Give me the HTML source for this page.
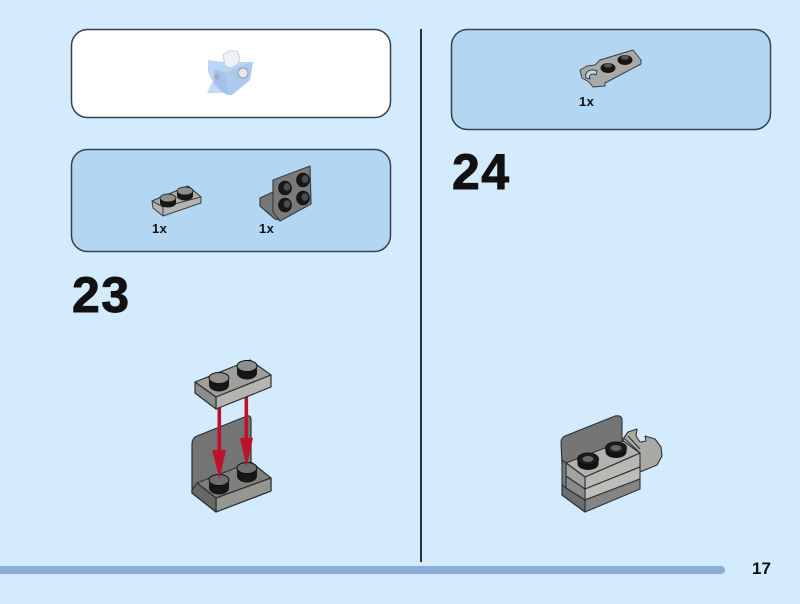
<!DOCTYPE html>
<html>
<head>
<meta charset="utf-8">
<style>
html,body{margin:0;padding:0;background:#d3ebfd;}
svg{display:block;filter:blur(.35px);}
text{font-family:"Liberation Sans",sans-serif;font-weight:bold;fill:#111;}
.num{stroke:#111;stroke-width:.9px;}
</style>
</head>
<body>
<svg width="800" height="604" viewBox="0 0 800 604" xmlns="http://www.w3.org/2000/svg">
<rect width="800" height="604" fill="#d3ebfd"/>

<!-- panels -->
<rect x="71.5" y="29.5" width="319" height="88" rx="16" fill="#fff" stroke="#36434f" stroke-width="1.5"/>
<rect x="71.5" y="149.5" width="319" height="102" rx="16" fill="#b3d7f3" stroke="#36434f" stroke-width="1.5"/>
<rect x="451.5" y="29.5" width="319" height="100" rx="16" fill="#b3d7f3" stroke="#36434f" stroke-width="1.5"/>

<!-- divider + footer -->
<rect x="420" y="29" width="2" height="533" fill="#26313a"/>
<rect x="-10" y="566" width="735" height="8" rx="4" fill="#8cabdc"/>
<text x="752" y="574" font-size="17">17</text>

<!-- step numbers -->
<text class="num" x="72" y="312" font-size="50" letter-spacing="1.5">23</text>
<text class="num" x="452" y="189" font-size="50" letter-spacing="1.5">24</text>

<!-- faded previous model -->
<g stroke-linejoin="round">
<polygon points="208,60 222,62 240,62 253,62 250,80 232,95 225,93 214,85 208,72" fill="#bdd5f5"/>
<polygon points="207,93 213,80 222,84 226,93" fill="#c4dafa"/>
<polygon points="225,66 223,55 228,51 237,51 240,58 238,64 231,68" fill="#edf2f8" stroke="#bcc9d8" stroke-width=".8"/>
<polygon points="225,73 240,66 253,62 250,80 232,95 227,95" fill="#aec9ee"/>
<polygon points="225,73 228,95 222,92 214,84 214,69" fill="#a4c1e8"/>
<circle cx="243" cy="73" r="5" fill="#e8e8e4" stroke="#8f9eb0"/>
<circle cx="217" cy="77" r="2.6" fill="#a0a8b2"/>
</g>

<!-- part list 23: plate -->
<g stroke="#3a3f44" stroke-width="1" stroke-linejoin="round">
<polygon points="152,201 188,186 201,197 201,203 163,216 153,208" fill="#b5b4b0"/>
<polygon points="152,201 188,186 201,197 163,207" fill="#aeadaa"/>
<line x1="163" y1="207" x2="163" y2="216"/>
</g>
<g>
<ellipse cx="168" cy="203" rx="8" ry="4.5" fill="#171717"/>
<rect x="160" y="198" width="16" height="5" fill="#171717"/>
<ellipse cx="168" cy="198" rx="8" ry="4" fill="#8f8f8d" stroke="#111" stroke-width=".8"/>
<ellipse cx="185" cy="196" rx="8" ry="4.5" fill="#171717"/>
<rect x="177" y="191" width="16" height="5" fill="#171717"/>
<ellipse cx="185" cy="191" rx="8" ry="4" fill="#8f8f8d" stroke="#111" stroke-width=".8"/>
</g>
<text x="152" y="233" font-size="13" letter-spacing=".4">1x</text>

<!-- part list 23: bracket -->
<g stroke="#3a3f44" stroke-width="1.2" stroke-linejoin="round">
<polygon points="260,198 273,192 281,205 280,220 275,219 260,206" fill="#777"/>
<polygon points="273,180 273,212 280,221 311,204 310,166" fill="#7b7b7b"/>
</g>
<g fill="#171717" stroke="#0d0d0d" stroke-width=".6">
<ellipse cx="285" cy="188" rx="6.5" ry="7"/>
<ellipse cx="303" cy="180" rx="6.5" ry="7"/>
<ellipse cx="303" cy="198" rx="6.5" ry="7"/>
<ellipse cx="285" cy="205" rx="6.5" ry="7"/>
</g>
<g fill="#4c4c4c" stroke="#222" stroke-width=".6">
<ellipse cx="287" cy="187" rx="3.5" ry="4"/>
<ellipse cx="305" cy="179" rx="3.5" ry="4"/>
<ellipse cx="305" cy="197" rx="3.5" ry="4"/>
<ellipse cx="287" cy="204" rx="3.5" ry="4"/>
</g>
<text x="259" y="233" font-size="13" letter-spacing=".4">1x</text>

<!-- part list 24 -->
<g stroke="#3a3f44" stroke-width="1" stroke-linejoin="round">
<path d="M580,70 L587,66 L595,65 L600,60 L633,50 L641,60 L641,64 L605,83 L605,86 L593,87 L589,82 L582,78 Z" fill="#a9a9a6"/>
<path d="M597,71 C590,68 584,72 586,78 L590,79 C588,75 592,73 596,75 Z" fill="#b3d7f3"/>
</g>
<g>
<ellipse cx="608" cy="68" rx="7.5" ry="5" fill="#141414"/>
<ellipse cx="608" cy="65.5" rx="4" ry="2.2" fill="#555"/>
<ellipse cx="625" cy="60" rx="7.5" ry="5" fill="#141414"/>
<ellipse cx="625" cy="57.5" rx="4" ry="2.2" fill="#555"/>
</g>
<text x="579" y="106" font-size="13" letter-spacing=".4">1x</text>

<!-- step 23 model: lower bracket -->
<g stroke="#2c3034" stroke-width="1.2" stroke-linejoin="round">
<path d="M192,444 Q192,438 197,436 L247,416 Q251,415 251,420 L251,466 L271,479 L271,491 L216,512 L192,493 Z" fill="#747474"/>
<polygon points="197,483 251,462 271,478 216,498" fill="#7f7f7d"/>
<polygon points="216,498 271,478 271,491 216,512" fill="#959592"/>
<polygon points="192,490 197,483 216,498 216,512 192,493" fill="#676767"/>
</g>
<g>
<ellipse cx="247" cy="476" rx="10" ry="6.5" fill="#161616"/>
<rect x="237" y="468" width="20" height="8" fill="#161616"/>
<ellipse cx="247" cy="468" rx="10" ry="5.5" fill="#6f6f6f" stroke="#111"/>
<ellipse cx="219" cy="488" rx="10" ry="6.5" fill="#161616"/>
<rect x="209" y="480" width="20" height="8" fill="#161616"/>
<ellipse cx="219" cy="480" rx="10" ry="5.5" fill="#6f6f6f" stroke="#111"/>
</g>

<!-- arrows -->
<g fill="#bd112c">
<rect x="217.5" y="405" width="3.6" height="50"/>
<polygon points="212,450 226,450 219.5,479"/>
<rect x="244.5" y="394" width="3.6" height="50"/>
<polygon points="240,438 253,438 246.5,467"/>
</g>

<!-- step 23 model: upper plate -->
<g stroke="#2c3034" stroke-width="1.2" stroke-linejoin="round">
<polygon points="195,382 250,360 271,375 216,397" fill="#9f9f9c"/>
<polygon points="216,397 271,375 271,387 216,409" fill="#b5b4b0"/>
<polygon points="195,382 216,397 216,409 195,393" fill="#8c8c89"/>
</g>
<g>
<ellipse cx="219" cy="385" rx="10" ry="6.5" fill="#161616"/>
<rect x="209" y="379" width="20" height="6" fill="#161616"/>
<ellipse cx="219" cy="378" rx="10" ry="5.5" fill="#8e8e8c" stroke="#111"/>
<ellipse cx="247" cy="373" rx="10" ry="6.5" fill="#161616"/>
<rect x="237" y="367" width="20" height="6" fill="#161616"/>
<ellipse cx="247" cy="366" rx="10" ry="5.5" fill="#8e8e8c" stroke="#111"/>
</g>

<!-- step 24 model -->
<g stroke="#2c3034" stroke-width="1.1" stroke-linejoin="round">
<path d="M623,439 L628,432 L637,429 L636,436 L640,442 L646,441 L645,436 L655,439 L661,447 L662,456 L657,465 L640,472 L628,460 Z" fill="#a9a9a6"/>
<path d="M561,442 Q561,438 565,436 L615,416 Q622,415 622,420 L622,448 L585,480 L562,465 Z" fill="#757575"/>
<polygon points="562,460 562,495 585,512 585,477" fill="#7b7b7b"/>
<polygon points="585,477 640,453 640,467 585,489" fill="#b8b8b4"/>
<polygon points="585,489 640,467 640,479 585,500" fill="#bdbdb9"/>
<polygon points="585,500 640,479 640,489 585,512" fill="#858583"/>
<polygon points="566,463 623,441 640,453 585,477" fill="#b2b2ae"/>
<polygon points="566,463 585,477 585,489 566,476" fill="#a3a3a0"/>
<polygon points="566,476 585,489 585,500 566,488" fill="#8b8b8b"/>
<polygon points="566,488 585,500 585,512 562,495 562,485" fill="#6d6d6d"/>
<line x1="624" y1="438" x2="640" y2="453"/>
<line x1="628" y1="436" x2="640" y2="449"/>
</g>
<g>
<ellipse cx="588" cy="464" rx="10.5" ry="6" fill="#141414"/>
<rect x="577.5" y="459" width="21" height="5" fill="#141414"/>
<ellipse cx="588" cy="459" rx="10.5" ry="6" fill="#1c1c1c" stroke="#0d0d0d"/>
<ellipse cx="588" cy="459" rx="5.5" ry="3" fill="#666"/>
<ellipse cx="616" cy="452" rx="10.5" ry="6" fill="#141414"/>
<rect x="605.5" y="448" width="21" height="4" fill="#141414"/>
<ellipse cx="616" cy="448" rx="10.5" ry="6" fill="#1c1c1c" stroke="#0d0d0d"/>
<ellipse cx="616" cy="448" rx="5.5" ry="3" fill="#666"/>
</g>
</svg>
</body>
</html>
